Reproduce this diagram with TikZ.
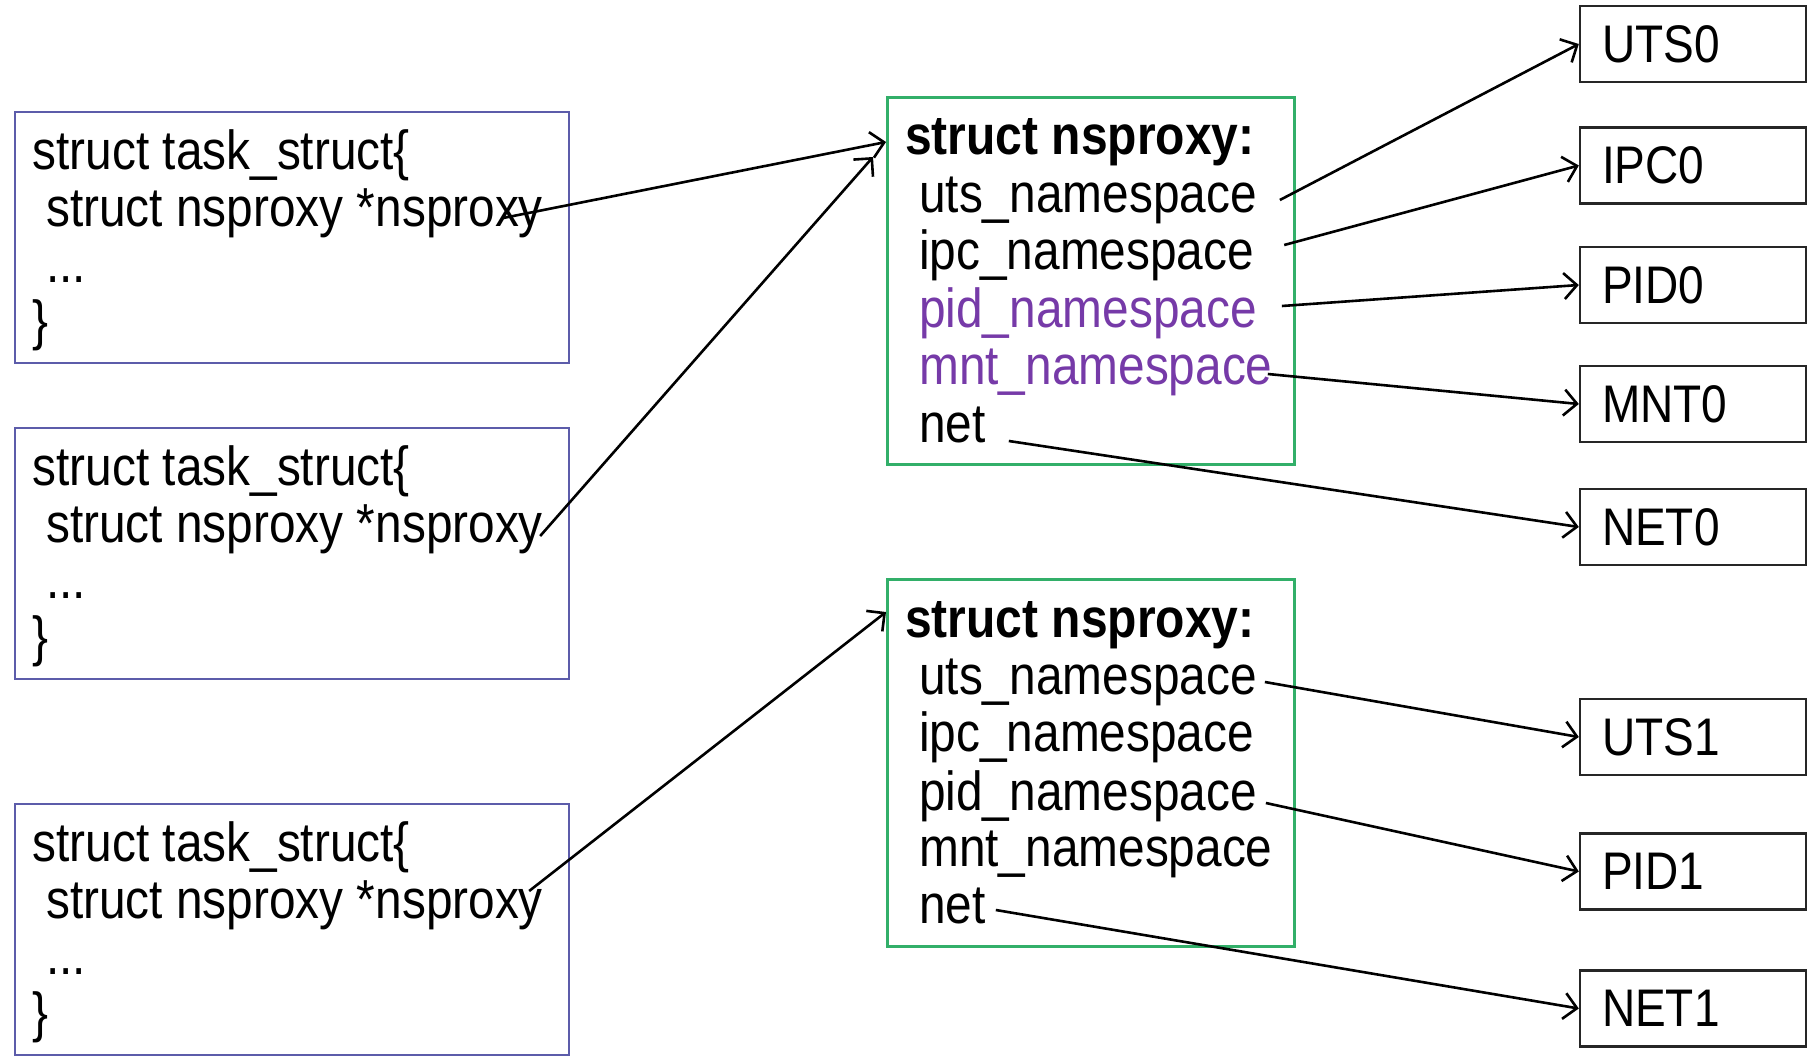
\documentclass[tikz,border=0pt]{standalone}
\usepackage{fontspec}
\setmainfont{Liberation Sans}
\usetikzlibrary{arrows.meta,calc}
\definecolor{taskc}{RGB}{92,92,170}
\definecolor{nsgreen}{RGB}{50,175,105}
\definecolor{nspurple}{RGB}{118,58,168}
\newcommand\vst[1]{\scalebox{1}[1.15]{#1}}
\begin{document}
\begin{tikzpicture}[x=1pt,y=-1pt,
  tbox/.style={draw=taskc, line width=2.4pt, minimum width=554pt, minimum height=251pt, anchor=north west, inner sep=0pt},
  nbox/.style={draw=nsgreen, line width=3.4pt, minimum width=407pt, minimum height=367pt, anchor=north west, inner sep=0pt},
  rbox/.style={draw=black!85, line width=2.4pt, minimum width=226pt, minimum height=76pt, text width=182pt, inner xsep=22pt, inner ysep=0pt, align=left, font=\fontsize{46}{50}\selectfont},
  txt/.style={anchor=base west, inner sep=0pt, font=\fontsize{47.8}{56}\selectfont},
  hdr/.style={anchor=base west, inner sep=0pt, font=\fontsize{48}{54}\selectfont\bfseries},
  arr/.style={line width=2.6pt, -{Straight Barb[length=13pt,width=26pt,line width=2.6pt]}}
]
\path[use as bounding box, fill=white] (0,0) rectangle (1820,1060);

% task_struct boxes
\foreach \i/\T in {1/111, 2/427, 3/803}{
  \node[tbox] (task\i) at (14,\T) {};
  \node[txt] (t\i a) at (32.5,\T+58.5) {\vst{struct task\_struct\{}};
  \node[txt] (t\i b) at (46,\T+115) {\vst{struct nsproxy *nsproxy}};
  \node[txt] (t\i c) at (46,\T+171) {\vst{...}};
  \node[txt] (t\i d) at (32.5,\T+228) {\vst{\}}};
}

% nsproxy boxes
\node[nbox] (ns0) at (886,96) {};
\node[hdr] (h0) at (905,154) {\vst{struct nsproxy:}};
\node[txt] (n0u) at (919,212) {\vst{uts\_namespace}};
\node[txt] (n0i) at (919,269) {\vst{ipc\_namespace}};
\node[txt, text=nspurple] (n0p) at (919,327) {\vst{pid\_namespace}};
\node[txt, text=nspurple] (n0m) at (919,384) {\vst{mnt\_namespace}};
\node[txt] (n0n) at (919,442) {\vst{net}};

\node[nbox] (ns1) at (886,578) {};
\node[hdr] (h1) at (905,637) {\vst{struct nsproxy:}};
\node[txt] (n1u) at (919,694) {\vst{uts\_namespace}};
\node[txt] (n1i) at (919,751) {\vst{ipc\_namespace}};
\node[txt] (n1p) at (919,810) {\vst{pid\_namespace}};
\node[txt] (n1m) at (919,866) {\vst{mnt\_namespace}};
\node[txt] (n1n) at (919,923) {\vst{net}};

% namespace boxes
\node[rbox] (uts0) at (1693,44) {\vst{UTS0}};
\node[rbox] (ipc0) at (1693,165.5) {\vst{IPC0}};
\node[rbox] (pid0) at (1693,285) {\vst{PID0}};
\node[rbox] (mnt0) at (1693,404) {\vst{MNT0}};
\node[rbox] (net0) at (1693,527) {\vst{NET0}};
\node[rbox] (uts1) at (1693,737) {\vst{UTS1}};
\node[rbox] (pid1) at (1693,871.5) {\vst{PID1}};
\node[rbox] (net1) at (1693,1008.5) {\vst{NET1}};

% task -> nsproxy
\draw[arr] ($(t1b.base east)+(-40,-8)$) -- ($(ns0.north west)+(0,46)$);
\draw[arr] ($(t2b.base east)+(-3,-6)$) -- ($(ns0.north west)+(-13,61)$);
\draw[arr] ($(t3b.base east)+(-14,-27)$) -- ($(ns1.north west)+(0,34)$);

% nsproxy -> namespaces
\draw[arr] ($(n0u.base east)+(23,-12)$) -- (uts0.west);
\draw[arr] ($(n0i.base east)+(30,-24)$) -- (ipc0.west);
\draw[arr] ($(n0p.base east)+(25,-21)$) -- (pid0.west);
\draw[arr] ($(n0m.base east)+(-5,-10)$) -- (mnt0.west);
\draw[arr] ($(n0n.base east)+(23,-1)$) -- (net0.west);

\draw[arr] ($(n1u.base east)+(8,-12)$) -- (uts1.west);
\draw[arr] ($(n1p.base east)+(9,-7)$) -- (pid1.west);
\draw[arr] ($(n1n.base east)+(10,-13)$) -- (net1.west);
\end{tikzpicture}
\end{document}
